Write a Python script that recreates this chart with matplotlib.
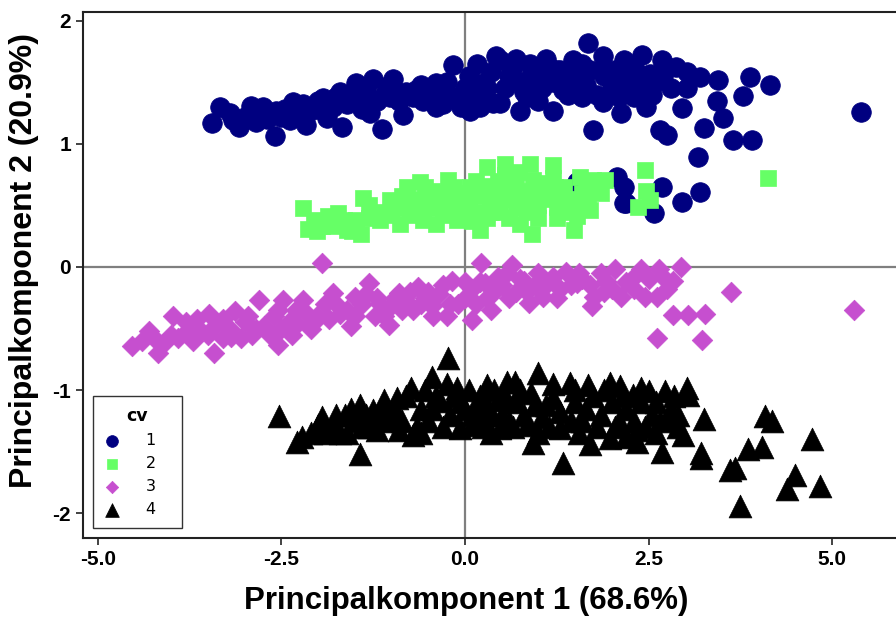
import numpy as np
import matplotlib
matplotlib.use("Agg")
from matplotlib import pyplot as plt

plt.rcParams["axes.unicode_minus"] = False

# PCA scores, one pair of lists per cv group
cv1_x = [-3.45, -3.34, -3.16, -3.07, -2.91, -2.75, -2.84, -2.59, -2.57, -2.34, -2.38, -2.16, -2.11,
         -1.93, -1.88, -1.70, -1.68, -1.48, -1.43, -1.25, -1.13, -1.29, -0.98, -1.02, -0.84, -0.66,
         -0.39, -0.39, -0.16, 0.07, 0.16, 0.38, 0.43, -0.57, -0.20, 0.25,
         -2.50, -2.00, -1.60, -1.10, -0.80, -0.50, -0.30, 0.00, 0.20,
         0.48, 0.70, 0.89, 1.11, 1.25, 1.47, 1.68, 1.88, 2.16, 2.41, 2.68, 2.88, 3.02, 3.20, 3.45,
         3.88, 4.16, 3.79, 3.43, 3.52, 3.65, 3.91, 3.25, 3.18, 2.95, 3.02, 2.66, 2.75, 2.47, 2.13,
         1.75, 1.88, 1.54, 1.20, 0.75, 0.48, 0.98, 1.34, 2.25, 2.52, 5.40,
         0.60, 0.90, 1.20, 1.50, 1.70, 1.90, 2.00, 2.20, 2.40, 2.60, 1.30, 0.80, 1.60, 2.30, 1.00,
         -3.20, -3.00, -2.80, -2.70, -2.45, -2.25, -2.20, -2.00, -1.80, -1.75, -1.55, -1.40, -1.35,
         -1.20, -1.05, -0.90, -0.70, -0.60, -0.45, -0.25, -0.10, 0.05, 0.10, 0.30, 0.35, 0.55, 0.65,
         0.75, 0.85, 1.00, 1.05, 1.15, 1.35, 1.40, 1.60, 1.65, 1.80, 1.85, 2.05, 2.10, 2.30, 2.45,
         2.55, 2.70, 2.80, 0.20, -0.05, -0.30,
         1.52, 2.07, 2.16, 2.20, 2.68, 2.57, 2.95, 3.20, 2.16]
cv1_y = [1.17, 1.30, 1.19, 1.14, 1.31, 1.30, 1.18, 1.06, 1.27, 1.34, 1.19, 1.15, 1.27,
         1.37, 1.21, 1.42, 1.14, 1.49, 1.34, 1.53, 1.12, 1.25, 1.53, 1.38, 1.23, 1.44,
         1.49, 1.30, 1.64, 1.27, 1.65, 1.33, 1.71, 1.35, 1.38, 1.49,
         1.22, 1.28, 1.32, 1.40, 1.42, 1.40, 1.42, 1.45, 1.38,
         1.68, 1.69, 1.65, 1.69, 1.60, 1.68, 1.82, 1.71, 1.68, 1.72, 1.68, 1.62, 1.58, 1.54, 1.52,
         1.54, 1.48, 1.39, 1.35, 1.21, 1.03, 1.03, 1.13, 0.89, 1.29, 1.45, 1.11, 1.07, 1.30, 1.25,
         1.11, 1.34, 1.44, 1.27, 1.27, 1.33, 1.49, 1.44, 1.49, 1.57, 1.26,
         1.55, 1.55, 1.50, 1.55, 1.60, 1.55, 1.45, 1.55, 1.45, 1.50, 1.60, 1.42, 1.38, 1.38, 1.35,
         1.25, 1.22, 1.25, 1.20, 1.28, 1.25, 1.32, 1.35, 1.30, 1.38, 1.40, 1.28, 1.45,
         1.35, 1.47, 1.35, 1.38, 1.48, 1.35, 1.50, 1.38, 1.55, 1.40, 1.45, 1.58, 1.45, 1.62,
         1.50, 1.38, 1.60, 1.45, 1.62, 1.50, 1.40, 1.65, 1.48, 1.40, 1.60, 1.60, 1.38, 1.62, 1.55,
         1.40, 1.55, 1.45, 1.30, 1.30, 1.32,
         0.69, 0.73, 0.65, 0.52, 0.65, 0.44, 0.53, 0.61, 0.52]

cv2_x = [-2.20, -2.13, -2.02, -1.86, -1.73, -1.79, -1.54, -1.48, -1.39, -1.41, -1.23, -1.02, -0.89,
         -0.79, -0.61, -0.57, -0.57, -0.39, -0.30, -0.23, -0.11, -0.11, 0.07, 0.09, 0.20, 0.30,
         0.34, 0.48, 0.54, 0.61, 0.73, 0.75, 0.89, 0.93, 0.91, 1.07, 1.20, 1.23, 1.25, 1.48, 1.52,
         1.57, 1.68, 1.75, 1.82, 1.91, 1.70, 2.45, 2.47, 2.36, 2.52, 4.13,
         -1.30, -1.10, -0.95, -0.80, -0.70, -0.50, -0.45, -0.40, -0.20, -0.05, 0.00, 0.15, 0.20,
         0.25, 0.40, 0.45, 0.55, 0.65, 0.80, 0.85, 1.00, 1.10, 1.30, 1.40, 0.30, -0.30, 0.60, 1.60,
         -2.05, -1.95, -1.65, -1.60, -1.30, -1.15, -1.00, -0.85, -0.75, -0.65, -0.55, -0.35, -0.25,
         -0.15, -0.05, 0.05, 0.10, 0.15, 0.30, 0.35, 0.40, 0.50, 0.55, 0.70, 0.70, 0.80, 0.95, 1.00,
         1.15, 1.20, 1.35, 1.45, 1.55, 1.65, 1.85, 1.25]
cv2_y = [0.48, 0.31, 0.29, 0.41, 0.44, 0.33, 0.29, 0.38, 0.56, 0.27, 0.44, 0.54, 0.35,
         0.65, 0.69, 0.50, 0.38, 0.35, 0.60, 0.71, 0.49, 0.38, 0.65, 0.37, 0.30, 0.81,
         0.54, 0.45, 0.84, 0.68, 0.77, 0.35, 0.84, 0.71, 0.27, 0.60, 0.83, 0.65, 0.49, 0.30, 0.41,
         0.73, 0.52, 0.71, 0.65, 0.71, 0.46, 0.79, 0.62, 0.49, 0.54, 0.72,
         0.40, 0.45, 0.48, 0.52, 0.45, 0.58, 0.62, 0.48, 0.55, 0.60, 0.50, 0.58, 0.45,
         0.66, 0.62, 0.70, 0.55, 0.58, 0.55, 0.45, 0.50, 0.68, 0.60, 0.55, 0.40, 0.42, 0.40, 0.60,
         0.38, 0.33, 0.38, 0.30, 0.50, 0.38, 0.42, 0.58, 0.42, 0.55, 0.65, 0.55, 0.45,
         0.65, 0.45, 0.55, 0.42, 0.70, 0.62, 0.45, 0.55, 0.62, 0.75, 0.65, 0.48, 0.62, 0.62, 0.40,
         0.55, 0.72, 0.65, 0.45, 0.50, 0.62, 0.60, 0.40]

cv3_x = [-4.53, -4.21, -3.98, -4.18, -3.77, -3.49, -3.42, -3.19, -3.13, -2.80, -2.73, -2.54, -2.47,
         -2.28, -2.21, -2.01, -1.95, -1.79, -1.55, -1.49, -1.30, -1.23, -1.03, -0.90, -0.64, -0.70,
         -0.44, -0.24, -0.18, 0.09, 0.22, 0.28, 0.35, 0.64, 0.58, 0.81, 0.87, 1.07, 1.20, 1.37,
         1.53, 1.73, 1.76, 2.05, 1.92, 2.12, 2.35, 2.45, 2.61, 2.64, 2.84, 2.94, 2.84, 3.04, 3.27,
         2.61, 3.23, 3.63, 5.30,
         -4.00, -3.80, -3.60, -3.40, -3.30, -3.00, -2.90, -2.60, -2.50, -2.30, -2.10, -1.90, -1.70,
         -1.40, -1.20, -1.00, -0.80, -0.60, -0.35, -0.10, 0.10, 0.30, 0.50, 0.70, 0.95, 1.30, 1.60,
         1.90, 2.20, 2.50, 0.00, -0.50,
         -4.40, -4.30, -4.10, -3.90, -3.70, -3.65, -3.50, -3.30, -3.20, -3.05, -2.95, -2.85, -2.65,
         -2.55, -2.40, -2.35, -2.15, -2.05, -1.85, -1.75, -1.60, -1.50, -1.35, -1.15, -1.10, -0.95,
         -0.85, -0.75, -0.55, -0.45, -0.30, -0.20, 0.00, 0.15, 0.20, 0.40, 0.45, 0.60, 0.75, 0.85,
         1.00, 1.10, 1.25, 1.45, 1.55, 1.70, 1.85, 2.00, 2.30, 2.40, 2.70, 2.75]
cv3_y = [-0.64, -0.59, -0.40, -0.70, -0.51, -0.38, -0.70, -0.57, -0.36, -0.27, -0.48, -0.63, -0.27,
         -0.46, -0.27, -0.40, 0.03, -0.21, -0.48, -0.24, -0.13, -0.40, -0.47, -0.21, -0.16, -0.35,
         -0.40, -0.40, -0.11, -0.43, 0.03, -0.13, -0.35, 0.02, -0.05, -0.11, -0.29, -0.24, -0.08, -0.04,
         -0.13, -0.32, -0.24, -0.02, -0.11, -0.24, -0.06, -0.24, -0.24, -0.02, -0.11, 0.00, -0.39, -0.39, -0.38,
         -0.58, -0.59, -0.20, -0.35,
         -0.55, -0.45, -0.52, -0.48, -0.58, -0.45, -0.55, -0.40, -0.50, -0.35, -0.50, -0.30, -0.38,
         -0.30, -0.25, -0.32, -0.28, -0.30, -0.22, -0.30, -0.18, -0.25, -0.15, -0.20, -0.15, -0.18, -0.10,
         -0.20, -0.12, -0.10, -0.12, -0.20,
         -0.60, -0.52, -0.62, -0.58, -0.60, -0.42, -0.55, -0.42, -0.50, -0.58, -0.40, -0.50, -0.55,
         -0.35, -0.45, -0.55, -0.38, -0.45, -0.42, -0.30, -0.35, -0.40, -0.22, -0.30, -0.40, -0.25,
         -0.35, -0.20, -0.25, -0.32, -0.15, -0.30, -0.25, -0.30, -0.12, -0.20, -0.08, -0.25, -0.10, -0.20,
         -0.05, -0.15, -0.25, -0.15, -0.05, -0.15, -0.05, -0.18, -0.18, -0.02, -0.08, -0.18]

cv4_x = [-2.53, -2.29, -2.22, -2.00, -1.91, -1.63, -1.43, -1.43, -1.25, -1.20, -1.07, -0.93, -0.73,
         -0.70, -0.45, -0.23, -0.11, -0.07, -0.34, 0.30, 0.57, 0.68, 1.00, 0.93, 0.48, 1.20, 1.29,
         1.34, 0.16,
         -1.80, -1.60, -1.50, -1.30, -1.00, -0.90, -0.60, -0.50, -0.40, -0.20, -0.15, 0.00, 0.10,
         0.20, 0.35, 0.45, 0.60, 0.70, 0.80, 0.90, 1.05, 1.10,
         1.43, 1.68, 1.98, 2.11, 2.29, 2.50, 2.72, 3.02, 3.04, 3.25, 3.22, 3.22, 1.70, 1.98, 2.34,
         2.68, 2.75, 2.97, 3.61, 3.68, 3.86, 4.04, 4.09, 4.18, 4.72, 4.50, 4.38, 4.84, 3.75,
         1.50, 1.60, 1.75, 1.85, 2.00, 2.05, 2.20, 2.30, 2.40, 2.55, 2.60, 2.80, 2.90, 1.55, 2.45,
         -2.10, -1.95, -1.75, -1.70, -1.55, -1.40, -1.35, -1.15, -1.10, -0.95, -0.85, -0.80, -0.65,
         -0.55, -0.45, -0.30, -0.25, -0.05, 0.05, 0.10, 0.25, 0.30, 0.40, 0.50, 0.55, 0.65, 0.75,
         0.85, 0.95, 1.15, 1.20, 1.30, 1.45, 1.50, 1.65, 1.80, 1.90, 2.10, 2.15, 2.35, 2.40, 2.60,
         2.65, 2.85, 2.90, 1.00, 0.35, -0.60, 2.20]
cv4_y = [-1.21, -1.42, -1.38, -1.28, -1.35, -1.20, -1.52, -1.12, -1.16, -1.32, -1.15, -1.06, -0.98,
         -1.36, -0.89, -0.74, -0.98, -1.31, -1.09, -0.96, -0.93, -0.93, -0.86, -1.43, -1.31, -1.06, -1.31,
         -1.59, -1.17,
         -1.30, -1.35, -1.25, -1.30, -1.25, -1.32, -1.15, -1.25, -1.05, -1.20, -1.05, -1.15, -1.28,
         -1.05, -1.20, -1.08, -1.25, -1.10, -1.20, -1.02, -1.22, -1.12,
         -0.94, -0.96, -0.94, -0.97, -1.04, -1.01, -1.01, -0.98, -1.04, -1.23, -1.51, -1.55, -1.44, -1.39, -1.42,
         -1.50, -1.23, -1.36, -1.65, -1.63, -1.48, -1.46, -1.21, -1.25, -1.40, -1.69, -1.80, -1.78, -1.94,
         -1.10, -1.25, -1.05, -1.20, -1.10, -1.30, -1.15, -1.25, -1.10, -1.20, -1.35, -1.15, -1.30, -1.35, -1.30,
         -1.35, -1.22, -1.20, -1.35, -1.15, -1.30, -1.20, -1.22, -1.08, -1.15, -1.25, -1.05, -1.30,
         -1.00, -1.15, -1.30, -0.95, -1.10, -1.00, -1.20, -1.30, -1.12, -1.00, -1.20, -1.05, -1.30, -1.00,
         -1.28, -1.12, -1.30, -0.95, -1.18, -1.25, -1.00, -1.15, -1.30, -1.00, -1.25, -1.05, -1.32, -0.98, -1.10,
         -1.25, -1.05, -1.20, -1.35, -1.35, -1.35, -1.38]

groups = ["1", "2", "3", "4"]
xs = [cv1_x, cv2_x, cv3_x, cv4_x]
ys = [cv1_y, cv2_y, cv3_y, cv4_y]
colors = ["#000080", "#66ff66", "#c64fcf", "#000000"]
markers = ["o", "s", "D", "^"]
sizes = [200, 125, 110, 270]

fig = plt.figure(figsize=(8.96, 6.18), dpi=100)
ax = fig.add_axes([83 / 896, 80 / 618, 1 - 83 / 896, 526 / 618])

# reference lines through the origin
ax.axhline(0, color="#7f7f7f", lw=1.6, zorder=1)
ax.axvline(0, color="#7f7f7f", lw=1.6, zorder=1)

for g, x, y, c, m, s in zip(groups, xs, ys, colors, markers, sizes):
    ax.scatter(x, y, s=s, c=c, marker=m, edgecolors="face", linewidths=0.5,
               label=g, zorder=2)

ax.set_xlim(-5.2, 5.87)
ax.set_ylim(-2.2, 2.07)
ax.set_xticks([-5.0, -2.5, 0.0, 2.5, 5.0])
ax.set_xticklabels(["-5.0", "-2.5", "0.0", "2.5", "5.0"])
ax.set_yticks([-2, -1, 0, 1, 2])

for sp in ["left", "bottom", "top"]:
    ax.spines[sp].set_linewidth(1.5)
    ax.spines[sp].set_color("#222222")
ax.spines["right"].set_visible(False)

ax.tick_params(direction="out", length=5, width=1.2, color="#222222")
arial = ["Liberation Sans", "DejaVu Sans"]
for lab in ax.get_xticklabels():
    lab.set_family(arial)
    lab.set_fontweight("bold")
    lab.set_fontsize(15)
for lab in ax.get_yticklabels():
    lab.set_family(arial)
    lab.set_fontweight("bold")
    lab.set_fontsize(15)

ax.set_xlabel("Principalkomponent 1 (68.6%)", family=arial, fontweight="bold",
              fontsize=22.5)
ax.xaxis.set_label_coords(0.471, -0.092)
ax.set_ylabel("Principalkomponent 2 (20.9%)", family=arial,
              fontweight="bold", fontsize=23)
ax.yaxis.set_label_coords(-0.054, 0.528)

leg = ax.legend(loc="lower left", bbox_to_anchor=(0.0123, 0.019, 0.1095, 0.24),
                mode="expand", borderaxespad=0,
                title="cv", markerscale=0.6, fontsize=11.5, handlelength=1.0,
                handletextpad=1.6, borderpad=0.7, labelspacing=0.5,
                frameon=True, fancybox=False, edgecolor="black")
leg.get_frame().set_linewidth(1.0)
leg.get_title().set_fontweight("bold")
leg.get_title().set_fontsize(12.5)

fig.savefig("out.png", dpi=100)
